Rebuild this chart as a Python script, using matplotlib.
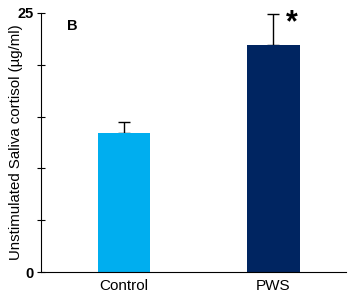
import matplotlib
matplotlib.use("Agg")
import matplotlib.pyplot as plt

categories = ["Control", "PWS"]
values = [13.4, 21.9]
errors_up = [1.1, 3.0]
colors = ["#00AEEF", "#002561"]

plt.rcParams['font.family'] = ['Liberation Sans', 'DejaVu Sans']

fig = plt.figure(figsize=(3.5, 2.98), dpi=100)
ax = fig.add_axes([41/350, 1-272/298, (346-41)/350, (272-13)/298])

x = list(range(len(categories)))
ax.bar(x, values, width=0.35, color=colors, zorder=2)
ax.errorbar(x, values, yerr=[[0, 0], errors_up], fmt='none', ecolor='black',
            elinewidth=1, capsize=4, capthick=1, zorder=1)

ax.set_xlim(-0.555, 1.485)
ax.set_ylim(0, 25)
ax.set_yticks([0, 5, 10, 15, 20, 25])
ax.set_yticklabels(["0", "", "", "", "", "25"], fontweight='bold', fontsize=10.5)
ax.tick_params(axis='y', direction='inout', length=6, width=0.8, pad=2)
ax.set_xticks(x)
ax.set_xticklabels(categories, fontsize=11)
ax.tick_params(axis='x', length=0, pad=5)
for s in ['top', 'right']:
    ax.spines[s].set_visible(False)
ax.spines['left'].set_linewidth(0.8)
ax.spines['bottom'].set_linewidth(0.8)
fig.text(16.5/350, 1-142/298, "Unstimulated Saliva cortisol (µg/ml)", fontsize=10.8,
         rotation=90, ha='center', va='center')

ax.text(0.103, 0.95, "B", transform=ax.transAxes, fontsize=10.5, fontweight='bold', ha='center', va='center')
ax.text(1.12, 24.0, "*", fontsize=22, fontweight='bold', ha='center', va='center')

fig.savefig("out.png", dpi=100)
